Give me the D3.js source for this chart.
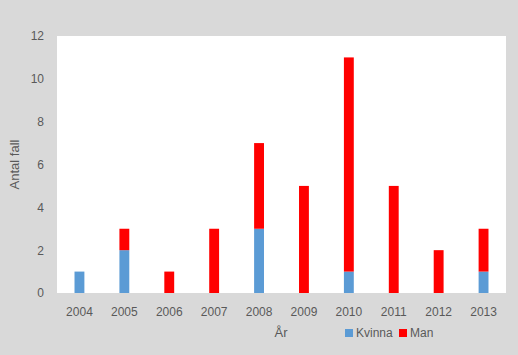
<!DOCTYPE html>
<html>
<head>
<meta charset="utf-8">
<script src="https://cdn.jsdelivr.net/npm/d3@7"></script>
<style>
  html, body { margin: 0; padding: 0; background: #d9d9d9; }
  svg { display: block; font-family: "Liberation Sans", Arial, sans-serif; }
</style>
</head>
<body>
<div id="chart"></div>
<script>
(function() {
    'use strict';

    // Data
    var years = ['2004', '2005', '2006', '2007', '2008', '2009', '2010', '2011', '2012', '2013'];
    var kvinna = [1, 2, 0, 0, 3, 0, 1, 0, 0, 1];
    var man = [0, 1, 1, 3, 4, 5, 10, 5, 2, 2];
    var yTicks = [0, 2, 4, 6, 8, 10, 12];
    var seriesNames = ['Kvinna', 'Man'];

    var colors = { Kvinna: '#5b9bd5', Man: '#ff0000' };
    var textColor = '#595959';

    var width = 518, height = 355;
    var margin = { top: 36, right: 12, bottom: 62, left: 57 };
    var innerWidth = width - margin.left - margin.right;
    var innerHeight = height - margin.top - margin.bottom;

    var rows = years.map(function(y, i) {
        return { year: y, Kvinna: kvinna[i], Man: man[i] };
    });
    var stacked = d3.stack().keys(seriesNames)(rows);

    var x = d3.scaleBand().domain(years).range([0, innerWidth]).paddingInner(0.78).paddingOuter(0.39);
    var y = d3.scaleLinear().domain([0, 12]).range([innerHeight, 0]);

    var svg = d3.select('#chart').append('svg')
        .attr('width', width)
        .attr('height', height);

    svg.append('rect')
        .attr('width', width).attr('height', height)
        .attr('fill', '#d9d9d9');

    var g = svg.append('g')
        .attr('transform', 'translate(' + margin.left + ',' + margin.top + ')');

    // Plot area
    g.append('rect')
        .attr('width', innerWidth)
        .attr('height', innerHeight)
        .attr('fill', '#ffffff');

    // Bars
    g.selectAll('.series')
        .data(stacked)
        .join('g')
        .attr('class', 'series')
        .attr('fill', function(d) { return colors[d.key]; })
        .selectAll('rect')
        .data(function(d) { return d; })
        .join('rect')
        .attr('x', function(d) { return x(d.data.year); })
        .attr('y', function(d) { return y(d[1]); })
        .attr('width', x.bandwidth())
        .attr('height', function(d) { return y(d[0]) - y(d[1]); });

    // Y axis
    var yAxis = g.append('g')
        .call(d3.axisLeft(y).tickValues(yTicks).tickSize(0).tickPadding(13));
    yAxis.select('.domain').remove();
    yAxis.selectAll('text')
        .attr('fill', textColor)
        .style('font-size', '12px');

    // X axis
    var xAxis = g.append('g')
        .attr('transform', 'translate(0,' + innerHeight + ')')
        .call(d3.axisBottom(x).tickSize(0).tickPadding(14));
    xAxis.select('.domain').remove();
    xAxis.selectAll('text')
        .attr('fill', textColor)
        .style('font-size', '12px');

    // Axis titles
    svg.append('text')
        .attr('transform', 'translate(19,' + (margin.top + innerHeight / 2) + ') rotate(-90)')
        .attr('text-anchor', 'middle')
        .attr('fill', textColor)
        .style('font-size', '13px')
        .text('Antal fall');

    svg.append('text')
        .attr('x', 281)
        .attr('y', 337)
        .attr('text-anchor', 'middle')
        .attr('fill', textColor)
        .style('font-size', '13px')
        .text('År');

    // Legend
    var legendX = [345, 399];
    var legend = svg.append('g');
    seriesNames.forEach(function(name, i) {
        legend.append('rect')
            .attr('x', legendX[i])
            .attr('y', 329)
            .attr('width', 8)
            .attr('height', 8)
            .attr('fill', colors[name]);
        legend.append('text')
            .attr('x', legendX[i] + 11)
            .attr('y', 337)
            .attr('fill', textColor)
            .style('font-size', '12px')
            .text(name);
    });
})();
</script>
</body>
</html>
